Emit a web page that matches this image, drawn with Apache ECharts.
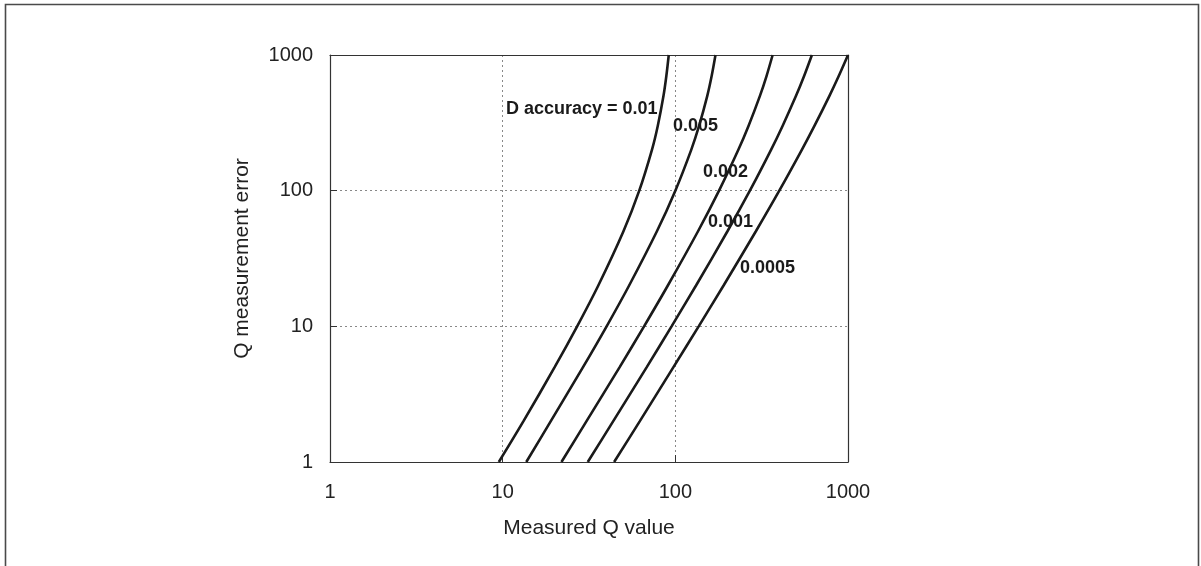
<!DOCTYPE html>
<html>
<head>
<meta charset="utf-8">
<script src="https://cdn.jsdelivr.net/npm/echarts@6/dist/echarts.min.js"></script>
<style>
html,body{margin:0;padding:0;background:#fff;}
#chart{width:1201px;height:566px;}
</style>
</head>
<body>
<div id="chart"></div>
<script>
// Q measurement error levels (y values)
var errorLevels = [1, 2, 5, 10, 20, 50, 100, 200, 300, 500, 700, 1000];
// Measured Q value (x) where each curve reaches the error levels above
var qD0_01   = [9.5, 13.2, 20.0, 27.0, 35.8, 50.0, 61.8, 73.2, 79.1, 85.4, 88.7, 91.6];
var qD0_005  = [13.7, 19.0, 29.2, 40.0, 54.0, 78.1, 100, 123.6, 137.2, 153.1, 162.3, 170.8];
var qD0_002  = [21.9, 30.6, 47.6, 65.9, 90.5, 135.1, 179.1, 231.7, 265.3, 309.0, 337.4, 366.0];
var qD0_001  = [31.1, 43.7, 68.3, 95.1, 131.8, 200, 270.2, 358.3, 417.9, 500, 556.9, 618.0];
var qD0_0005 = [44.2, 62.3, 97.5, 136.5, 190.3, 292.2, 400, 540.2, 639.0, 780.8, 883.9, 1000];
var seriesNames = ['D accuracy = 0.01', '0.005', '0.002', '0.001', '0.0005'];
var seriesQ = [qD0_01, qD0_005, qD0_002, qD0_001, qD0_0005];
var xTicks = [1, 10, 100, 1000];
var yTicks = [1, 10, 100, 1000];

var FONT = '"Liberation Sans", Arial, sans-serif';
var chart = echarts.init(document.getElementById('chart'), null, {renderer: 'canvas'});

function pair(qs) { return qs.map(function (q, i) { return [q, errorLevels[i]]; }); }
function fmt(v) { return String(Math.round(v)); }

var series = seriesQ.map(function (qs, i) {
  return {
    name: seriesNames[i], type: 'line', data: pair(qs), xAxisIndex: 0, yAxisIndex: 0,
    showSymbol: false, smooth: 0.3, clip: true,
    lineStyle: {color: '#1a1a1a', width: 2.6}, z: 5
  };
});

var labelStyle = {fill: '#1a1a1a', font: 'bold 18px ' + FONT, textVerticalAlign: 'middle'};
var option = {
  animation: false,
  backgroundColor: '#ffffff',
  grid: {left: 330, right: 353, top: 55, bottom: 104, containLabel: false},
  xAxis: [{
    type: 'log', logBase: 10, min: 1, max: 1000, position: 'bottom',
    name: 'Measured Q value', nameLocation: 'middle', nameGap: 56,
    nameTextStyle: {fontSize: 21, color: '#222', fontFamily: FONT},
    axisLine: {show: true, lineStyle: {color: '#333', width: 1.2}},
    axisTick: {show: true, inside: true, length: 7, lineStyle: {color: '#333'}},
    minorTick: {show: false},
    axisLabel: {formatter: fmt, fontSize: 20, color: '#222', fontFamily: FONT, margin: 20},
    splitLine: {show: true, lineStyle: {color: '#888', type: [2, 3], width: 1}}
  }, {
    type: 'log', logBase: 10, min: 1, max: 1000, position: 'top',
    axisLine: {show: true, lineStyle: {color: '#333', width: 1.2}},
    axisTick: {show: false}, axisLabel: {show: false}, splitLine: {show: false}
  }],
  yAxis: [{
    type: 'log', logBase: 10, min: 1, max: 1000, position: 'left',
    name: 'Q measurement error', nameLocation: 'middle', nameGap: 77, nameRotate: 90,
    nameTextStyle: {fontSize: 21, color: '#222', fontFamily: FONT},
    axisLine: {show: true, lineStyle: {color: '#333', width: 1.2}},
    axisTick: {show: true, inside: true, length: 7, lineStyle: {color: '#333'}},
    axisLabel: {formatter: fmt, fontSize: 20, color: '#222', fontFamily: FONT, margin: 17},
    splitLine: {show: true, lineStyle: {color: '#888', type: [2, 3], width: 1}}
  }, {
    type: 'log', logBase: 10, min: 1, max: 1000, position: 'right',
    axisLine: {show: true, lineStyle: {color: '#333', width: 1.2}},
    axisTick: {show: false}, axisLabel: {show: false}, splitLine: {show: false}
  }],
  series: series,
  graphic: [
    {type: 'rect', shape: {x: 5.5, y: 4.5, width: 1193, height: 620}, style: {fill: 'none', stroke: '#4a4a4a', lineWidth: 1.6}, silent: true, z: 100},
    {type: 'text', x: 506, y: 109, style: Object.assign({text: seriesNames[0]}, labelStyle), z: 100},
    {type: 'text', x: 673, y: 126, style: Object.assign({text: seriesNames[1]}, labelStyle), z: 100},
    {type: 'text', x: 703, y: 172, style: Object.assign({text: seriesNames[2]}, labelStyle), z: 100},
    {type: 'text', x: 708, y: 222, style: Object.assign({text: seriesNames[3]}, labelStyle), z: 100},
    {type: 'text', x: 740, y: 268, style: Object.assign({text: seriesNames[4]}, labelStyle), z: 100}
  ]
};
chart.setOption(option);
</script>
</body>
</html>
